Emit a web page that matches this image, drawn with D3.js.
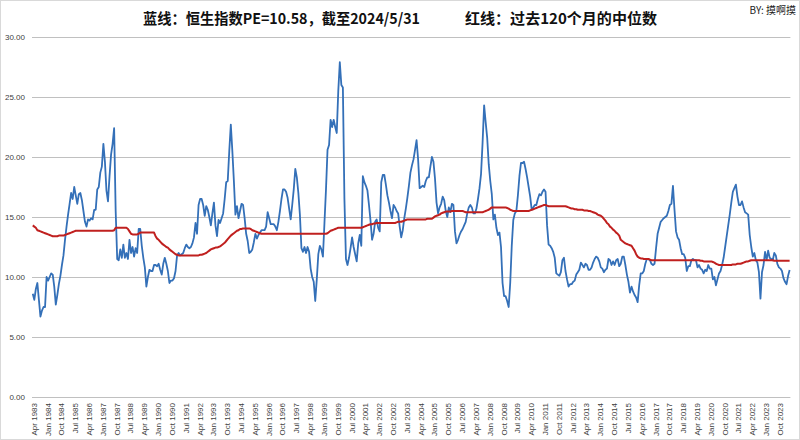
<!DOCTYPE html>
<html lang="zh">
<head>
    <meta charset="utf-8" />
    <title>恒生指数PE</title>
    <script src="https://cdn.jsdelivr.net/npm/d3@7"></script>
    <style>
        body {
            margin: 0;
            background-color: white;
        }

        svg {
            display: block;
            font-family: 'Noto Sans CJK SC', 'Noto Sans', sans-serif;
        }

        .grid line {
            stroke: #c0c0c0;
            stroke-width: 1px;
        }

        .ylabels text, .xlabels text {
            fill: #404040;
            font-family: 'Liberation Sans', Arial, sans-serif;
            font-size: 8px;
        }

        path.pe {
            fill: none;
            stroke: #3470b8;
            stroke-width: 1.8px;
            stroke-linejoin: round;
        }

        path.median {
            fill: none;
            stroke: #c0201f;
            stroke-width: 2px;
            stroke-linejoin: round;
        }
    </style>
</head>
<body>
    <svg id="chart" width="800" height="440"></svg>
    <script type="text/javascript">
        // monthly categories, Apr 1983 .. May 2024
        var firstMonth = new Date(1983, 3, 1);
        var lastMonth = new Date(2024, 4, 1);
        var labelEvery = 9;
        var yTicks = [0, 5, 10, 15, 20, 25, 30];

        var titleLeft = "蓝线：恒生指数PE=10.58，截至2024/5/31";
        var titleRight = "红线：过去120个月的中位数";
        var byline = "BY: 摸啊摸";

        // blue: Hang Seng PE, one value per month
        var pe = [
            8.6, 8.1, 9.0, 9.5, 8.1, 6.7, 7.2, 7.5, 7.5,
            10.0, 9.7, 10.0, 10.3, 10.2, 9.2, 7.7, 8.5, 9.4, 10.1, 11.0, 11.8,
            13.1, 14.2, 15.2, 16.1, 17.0, 16.5, 17.5, 16.8, 16.1, 16.9, 17.0, 16.4,
            15.5, 14.6, 14.2, 14.8, 14.7, 14.9, 14.8, 15.6, 15.6, 17.3, 17.5, 18.7,
            19.2, 21.1, 19.6, 17.2, 16.3, 18.4, 20.2, 21.1, 22.4, 15.5, 11.5, 11.4,
            12.3, 11.6, 12.7, 11.6, 12.0, 11.5, 13.1, 12.0, 12.5, 11.7, 12.4, 12.0,
            14.0, 14.0, 12.6, 11.6, 10.8, 9.2, 10.0, 10.6, 10.5, 10.5, 11.0, 11.0,
            10.9, 11.1, 10.6, 10.2, 11.1, 11.6, 11.1, 10.5, 9.5, 9.7, 9.7, 9.9,
            10.5, 11.8, 12.0, 11.8, 11.9, 12.0, 12.4, 12.7, 12.5, 12.4, 12.5, 12.8,
            13.3, 14.5, 13.6, 16.0, 16.5, 16.5, 16.0, 15.1, 15.9, 15.6, 15.0, 14.3,
            15.3, 16.2, 14.3, 13.4, 14.75, 14.5, 14.9, 15.3, 16.5, 17.9, 18.0, 20.5,
            22.7, 20.5, 18.0, 15.2, 15.9, 14.9, 15.5, 16.1, 16.0, 14.9, 13.6, 13.0,
            12.0, 12.1, 12.3, 12.9, 13.6, 13.2, 13.5, 13.7, 13.9, 13.9, 13.9, 14.2,
            15.4, 14.9, 14.4, 14.4, 14.4, 14.2, 13.9, 14.6, 15.5, 16.5, 17.3, 17.3,
            17.1, 16.6, 15.7, 14.8, 16.0, 17.3, 19.0, 18.3, 17.0, 15.2, 12.4, 12.1,
            12.5, 12.0, 12.5, 12.1, 10.7, 10.0, 9.6, 8.0, 9.8, 11.9, 12.6, 12.3,
            11.7, 14.5, 17.3, 20.6, 21.0, 23.1, 22.5, 23.1, 22.5, 22.0, 25.5, 27.9,
            26.0, 25.8, 16.5, 11.5, 11.0, 11.6, 12.4, 13.3, 12.5, 11.9, 11.3, 12.8,
            13.5, 12.6, 18.4, 17.9, 17.6, 17.2, 16.0, 14.7, 13.1, 13.6, 14.6, 14.8,
            14.1, 13.8, 17.9, 18.5, 18.5, 17.7, 16.8, 16.2, 15.5, 14.9, 16.0, 15.8,
            15.5, 15.3, 14.2, 13.3, 13.9, 14.9, 15.7, 16.6, 17.6, 18.7, 19.3, 19.8,
            20.6, 21.4, 19.8, 17.4, 17.5, 17.6, 17.5, 18.0, 18.3, 18.3, 19.2, 20.0,
            19.6, 18.2, 16.2, 15.3, 15.8, 16.1, 16.7, 16.4, 15.5, 15.0, 15.8, 15.4,
            16.1, 16.0, 13.8, 12.8, 13.1, 13.5, 13.8, 14.0, 14.3, 14.6, 15.3, 15.8,
            16.0, 15.8, 15.3, 15.3, 15.7, 16.5, 17.4, 18.6, 21.2, 24.3, 22.9, 21.6,
            19.4, 18.0, 16.9, 14.8, 15.2, 14.1, 13.5, 13.7, 12.5, 9.5, 8.4, 8.4,
            8.0, 7.5, 9.5, 12.6, 14.75, 15.3, 15.5, 16.8, 18.4, 19.5, 19.5, 19.6,
            19.0, 18.3, 17.5, 16.7, 15.6, 15.8, 16.0, 16.0, 16.5, 16.9, 16.8, 17.1,
            17.3, 17.1, 14.3, 12.7, 12.6, 12.4, 12.1, 11.6, 10.3, 10.2, 10.1, 10.4,
            11.4, 11.6, 10.5, 9.8, 9.2, 9.4, 9.4, 9.6, 9.7, 10.2, 10.4, 10.6,
            11.2, 11.0, 10.8, 11.1, 11.0, 10.6, 10.6, 10.8, 11.2, 11.5, 11.7, 11.6,
            11.3, 10.8, 10.7, 10.4, 10.6, 10.7, 11.5, 11.4, 11.0, 11.3, 11.0, 11.4,
            11.5, 10.9, 11.1, 11.7, 11.7, 11.0, 10.2, 9.6, 8.7, 9.2, 8.8, 8.5,
            8.3, 7.9, 9.3, 10.3, 10.3, 10.5, 11.1, 11.5, 11.5, 11.4, 11.1, 11.0,
            11.1, 12.4, 13.6, 14.1, 14.6, 14.75, 14.9, 15.0, 15.1, 15.5, 16.0, 16.1,
            17.6, 15.6, 13.8, 13.3, 13.1, 12.4, 11.9, 11.9, 11.6, 10.5, 10.9, 10.9,
            11.4, 11.5, 11.4, 11.4, 10.8, 11.0, 10.7, 10.6, 10.3, 10.6, 10.5, 11.0,
            10.7, 10.7, 9.8, 10.0, 9.3, 9.8, 10.3, 10.5, 11.0, 11.6, 12.5, 13.4,
            14.3, 15.2, 16.2, 17.1, 17.4, 17.7, 16.7, 16.0, 16.0, 16.3, 15.8, 15.4,
            15.3, 15.2, 13.5, 12.5, 11.7, 12.0, 11.4, 11.2, 10.4, 8.2, 10.4, 11.0,
            12.1, 11.4, 12.2, 11.6, 11.5, 11.4, 12.0, 11.8, 11.1, 10.8, 10.7, 10.5,
            9.9, 9.6, 9.4, 10.1, 10.58
        ];

        // red: median of the past 120 months
        var median120 = [
            14.3, 14.2, 14.1, 13.9, 13.85, 13.8, 13.75, 13.7, 13.65,
            13.6, 13.55, 13.5, 13.45, 13.4, 13.4, 13.4, 13.4, 13.45, 13.45, 13.45, 13.45,
            13.5, 13.55, 13.6, 13.65, 13.7, 13.75, 13.8, 13.85, 13.85, 13.85, 13.85, 13.85,
            13.85, 13.85, 13.85, 13.85, 13.85, 13.85, 13.85, 13.85, 13.85, 13.85, 13.85, 13.85,
            13.85, 13.85, 13.85, 13.85, 13.85, 13.85, 13.85, 13.85, 13.9, 14.1, 14.1, 14.1,
            14.1, 14.1, 14.1, 14.1, 14.1, 14.0, 13.8, 13.6, 13.55, 13.55, 13.55, 13.55,
            13.6, 13.7, 13.7, 13.7, 13.7, 13.7, 13.7, 13.7, 13.7, 13.7, 13.7, 13.4,
            13.2, 13.1, 12.95, 12.8, 12.7, 12.6, 12.5, 12.45, 12.3, 12.2, 12.1, 12.0,
            11.9, 11.85, 11.8, 11.8, 11.8, 11.8, 11.8, 11.8, 11.8, 11.8, 11.8, 11.8,
            11.8, 11.8, 11.8, 11.8, 11.85, 11.85, 11.9, 11.95, 12.0, 12.1, 12.2, 12.3,
            12.35, 12.4, 12.45, 12.45, 12.5, 12.55, 12.65, 12.75, 12.85, 13.0, 13.15, 13.3,
            13.45, 13.55, 13.65, 13.75, 13.85, 13.9, 14.0, 14.0, 14.05, 14.05, 14.05, 14.05,
            14.05, 14.0, 13.9, 13.85, 13.8, 13.75, 13.7, 13.65, 13.6, 13.6, 13.6, 13.6,
            13.6, 13.6, 13.6, 13.6, 13.6, 13.6, 13.6, 13.6, 13.6, 13.6, 13.6, 13.6,
            13.6, 13.6, 13.6, 13.6, 13.6, 13.6, 13.6, 13.6, 13.6, 13.6, 13.6, 13.6,
            13.6, 13.6, 13.6, 13.6, 13.6, 13.6, 13.6, 13.6, 13.6, 13.6, 13.6, 13.6,
            13.6, 13.6, 13.6, 13.65, 13.75, 13.85, 13.9, 13.95, 14.0, 14.05, 14.1, 14.1,
            14.1, 14.1, 14.1, 14.1, 14.1, 14.1, 14.1, 14.1, 14.1, 14.1, 14.1, 14.1,
            14.1, 14.1, 14.15, 14.2, 14.25, 14.3, 14.35, 14.4, 14.4, 14.45, 14.45, 14.5,
            14.5, 14.5, 14.5, 14.5, 14.5, 14.5, 14.5, 14.5, 14.5, 14.5, 14.5, 14.5,
            14.55, 14.6, 14.6, 14.6, 14.65, 14.7, 14.75, 14.8, 14.8, 14.8, 14.8, 14.8,
            14.8, 14.8, 14.8, 14.8, 14.8, 14.8, 14.8, 14.8, 14.85, 14.85, 14.85, 14.85,
            14.95, 15.05, 15.1, 15.15, 15.2, 15.3, 15.35, 15.4, 15.45, 15.45, 15.45, 15.45,
            15.5, 15.5, 15.5, 15.5, 15.5, 15.5, 15.5, 15.5, 15.45, 15.4, 15.4, 15.4,
            15.4, 15.4, 15.4, 15.4, 15.4, 15.4, 15.4, 15.4, 15.4, 15.45, 15.5, 15.55,
            15.6, 15.7, 15.8, 15.8, 15.8, 15.8, 15.8, 15.8, 15.8, 15.8, 15.8, 15.8,
            15.75, 15.7, 15.6, 15.55, 15.5, 15.5, 15.5, 15.5, 15.5, 15.5, 15.5, 15.5,
            15.5, 15.5, 15.5, 15.55, 15.6, 15.65, 15.7, 15.75, 15.8, 15.85, 15.9, 15.95,
            16.0, 16.0, 15.95, 15.9, 15.9, 15.9, 15.9, 15.9, 15.9, 15.9, 15.9, 15.9,
            15.9, 15.9, 15.9, 15.85, 15.8, 15.75, 15.7, 15.7, 15.65, 15.65, 15.6, 15.6,
            15.6, 15.6, 15.55, 15.55, 15.55, 15.5, 15.5, 15.45, 15.4, 15.35, 15.3, 15.2,
            15.15, 15.1, 15.0, 14.85, 14.7, 14.5, 14.4, 14.2, 14.1, 13.95, 13.85, 13.7,
            13.6, 13.45, 13.1, 13.0, 12.9, 12.8, 12.75, 12.7, 12.65, 12.6, 12.4, 12.2,
            11.9, 11.7, 11.6, 11.55, 11.55, 11.5, 11.5, 11.5, 11.5, 11.45, 11.4, 11.4,
            11.4, 11.4, 11.4, 11.4, 11.4, 11.4, 11.4, 11.4, 11.4, 11.4, 11.4, 11.4,
            11.4, 11.4, 11.4, 11.4, 11.4, 11.4, 11.4, 11.4, 11.4, 11.4, 11.4, 11.4,
            11.4, 11.4, 11.4, 11.4, 11.4, 11.4, 11.35, 11.35, 11.3, 11.3, 11.3, 11.3,
            11.3, 11.3, 11.25, 11.2, 11.1, 11.05, 11.0, 11.0, 11.0, 11.0, 11.0, 11.0,
            11.0, 11.0, 11.0, 11.05, 11.05, 11.05, 11.1, 11.1, 11.1, 11.15, 11.2, 11.25,
            11.3, 11.3, 11.35, 11.4, 11.4, 11.4, 11.4, 11.4, 11.4, 11.4, 11.4, 11.4,
            11.4, 11.4, 11.4, 11.4, 11.4, 11.4, 11.35, 11.35, 11.35, 11.35, 11.35, 11.35,
            11.35, 11.35, 11.35, 11.35, 11.35
        ];

        var width = 800;
        var height = 440;
        var margin = { top: 37, left: 32, bottom: 43, right: 9.6 };

        var months = d3.timeMonth.range(firstMonth, d3.timeMonth.offset(lastMonth, 1));
        console.log(months.length, pe.length, median120.length);

        var svg = d3.select("#chart");

        svg.append("rect").attr("x", 0.5).attr("y", 0.5)
            .attr("width", width - 1).attr("height", height - 1)
            .attr("fill", "white").attr("stroke", "#d9d9d9");

        var x = d3.scaleBand()
            .domain(d3.range(months.length))
            .range([margin.left, width - margin.right]);
        var xc = function (i) { return x(i) + x.bandwidth() / 2; };

        var y = d3.scaleLinear()
            .domain([0, 30])
            .range([height - margin.bottom, margin.top]);

        // horizontal gridlines
        svg.append("g").attr("class", "grid")
            .selectAll("line").data(yTicks)
            .enter().append("line")
            .attr("x1", margin.left).attr("x2", width - margin.right)
            .attr("y1", function (d) { return Math.round(y(d)) + 0.5; })
            .attr("y2", function (d) { return Math.round(y(d)) + 0.5; });

        svg.append("g").attr("class", "ylabels")
            .selectAll("text").data(yTicks)
            .enter().append("text")
            .attr("x", 25).attr("y", function (d) { return y(d); })
            .attr("text-anchor", "end").attr("dominant-baseline", "central")
            .text(d3.format(".2f"));

        // month labels, every 9 months
        var fmt = d3.timeFormat("%b %Y");
        var labelIdx = d3.range(0, months.length, labelEvery);
        svg.append("g").attr("class", "xlabels")
            .selectAll("text").data(labelIdx)
            .enter().append("text")
            .attr("transform", function (i) { return "translate(" + (xc(i) + 1.5) + "," + (height - margin.bottom + 6) + ") rotate(-90)"; })
            .attr("text-anchor", "end").attr("dominant-baseline", "central")
            .text(function (i) { return fmt(months[i]); });

        var line = d3.line()
            .x(function (d, i) { return xc(i); })
            .y(function (d) { return y(d); });

        svg.append("path").attr("class", "pe").datum(pe).attr("d", line);
        svg.append("path").attr("class", "median").datum(median120).attr("d", line);

        // titles
        svg.append("text").attr("x", 143).attr("y", 17)
            .attr("dominant-baseline", "central")
            .attr("font-size", 15).attr("font-weight", "bold").attr("fill", "#111")
            .attr("textLength", 277).attr("lengthAdjust", "spacingAndGlyphs")
            .text(titleLeft);

        svg.append("text").attr("x", 465).attr("y", 17)
            .attr("dominant-baseline", "central")
            .attr("font-size", 15).attr("font-weight", "bold").attr("fill", "#111")
            .attr("textLength", 192).attr("lengthAdjust", "spacingAndGlyphs")
            .text(titleRight);

        svg.append("text").attr("x", 796).attr("y", 9)
            .attr("dominant-baseline", "central").attr("text-anchor", "end")
            .attr("font-size", 10).attr("fill", "#222")
            .text(byline);
    </script>
</body>
</html>
